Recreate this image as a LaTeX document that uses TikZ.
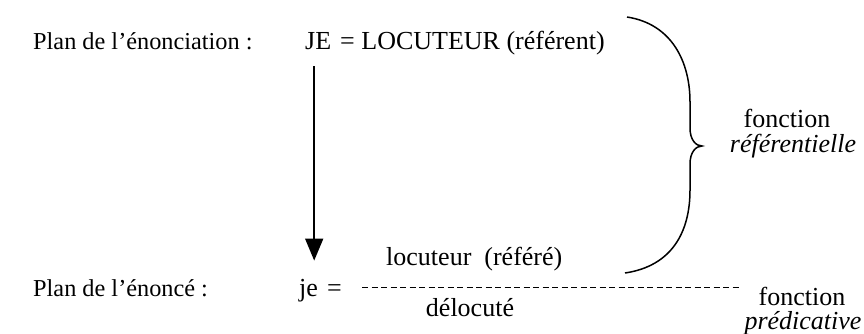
\documentclass[tikz,border=0pt]{standalone}
\usepackage{fontspec}
\setmainfont{Liberation Serif}
\usepackage{tikz}
\usetikzlibrary{arrows.meta}

\begin{document}
\begin{tikzpicture}[
  x=1pt, y=-1pt,
  font=\fontsize{26}{30}\selectfont,
  lbl/.style={anchor=base west, inner sep=0pt},
  plan/.style={lbl, font=\fontsize{24.3}{28}\selectfont},
  fn/.style={anchor=base, inner sep=0pt},
  arrow/.style={-{Triangle[length=22pt, width=18pt]}, draw=black, line width=1.6pt, shorten <=16pt, shorten >=18pt},
  brace/.style={draw=black, line width=1.5pt},
  fracline/.style={draw=black, line width=1pt, dash pattern=on 6pt off 3.5pt}
]
\useasboundingbox (0,0) rectangle (864,334);
% plan de l'enonciation
\node[plan] (planA) at (33,50) {Plan de l'énonciation :};
\node[lbl] (JE) at (305,50) {JE};
\node[lbl] (locA) at (340,50) {= LOCUTEUR (référent)};
% plan de l'enonce
\node[plan] (planB) at (33,296) {Plan de l'énoncé :};
\node[lbl] (je) at (299,296) {je};
\node[lbl] (eqB) at (327,296) {=};
\node[lbl] (refere) at (386,265) {locuteur\ \ (référé)};
\node[fn] (deloc) at (470,316) {délocuté};
\coordinate (dashL) at (362,287);
\coordinate (dashR) at (740,287);
\draw[fracline] (dashL) -- (dashR);
% fonctions
\node[fn] (fonA) at (787,128) {fonction};
\node[fn] (refA) at (793,152) {\itshape référentielle};
\node[fn] (fonB) at (802,305) {fonction};
\node[fn] (predB) at (803,329) {\itshape prédicative};
% accolade
\coordinate (bracetop) at (627,17);
\coordinate (bracetip) at (702,146);
\coordinate (bracebot) at (625,273);
\draw[brace] (bracetop) .. controls (672,24) and (690,62) .. (690,102) -- (690,128)
  .. controls (690,140) and (696,146) .. (bracetip)
  .. controls (696,146) and (690,152) .. (690,164) -- (690,190)
  .. controls (690,232) and (672,266) .. (bracebot);
\draw[arrow] ([xshift=-4pt]JE.south) -- ([xshift=-4pt]JE.south |- je.north);
\end{tikzpicture}
\end{document}
